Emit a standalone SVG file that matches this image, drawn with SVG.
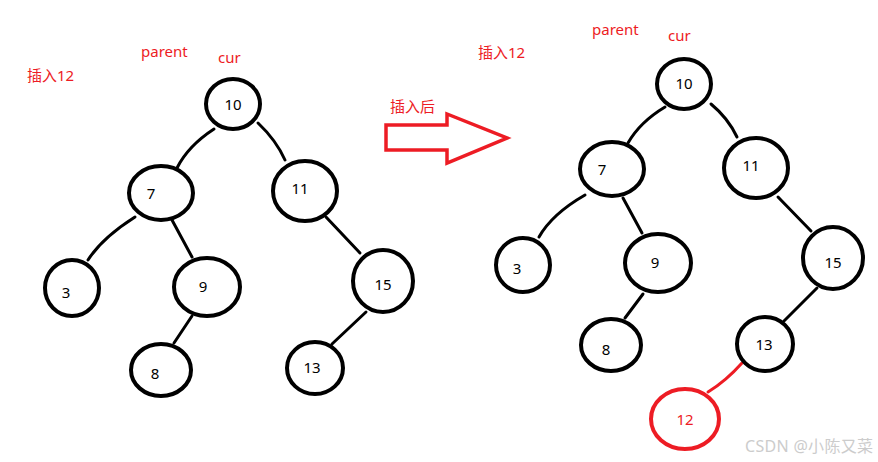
<svg xmlns="http://www.w3.org/2000/svg" width="878" height="462" viewBox="0 0 878 462">
<style>
.n{fill:none;stroke:#000;stroke-width:4}
.nr{fill:none;stroke:#ed1c24;stroke-width:4}
.e{fill:none;stroke:#000;stroke-width:3;stroke-linecap:round}
.er{fill:none;stroke:#ed1c24;stroke-width:3;stroke-linecap:round}
.t{font-family:"Noto Sans","Noto Sans CJK SC",sans-serif;font-size:15px;fill:#000;text-anchor:middle}
.r{font-family:"Noto Sans","Noto Sans CJK SC",sans-serif;font-size:15px;fill:#ed1c24}
.w{font-family:"Noto Sans","Noto Sans CJK SC",sans-serif;font-size:16px;fill:#cccccc}
</style>
<rect width="878" height="462" fill="#fff"/>
<g id="labels">
<text class="r" x="27" y="81">插入12</text>
<text class="r" x="141" y="57">parent</text>
<text class="r" x="218" y="63">cur</text>
<text class="r" x="390" y="112">插入后</text>
<text class="r" x="478" y="58">插入12</text>
<text class="r" x="592" y="35">parent</text>
<text class="r" x="668" y="41">cur</text>
<text class="w" x="745" y="452" textLength="128">CSDN @小陈又菜</text>
</g>
<g id="arrow">
<polygon points="386,125 447,125 447,114 507,138 447,163 447,150 386,150" fill="none" stroke="#ed1c24" stroke-width="3.5" stroke-linejoin="miter"/>
</g>
<g id="connectors">
<path class="e" d="M214,129 Q188,146 177,168"/>
<path class="e" d="M258,123 Q276,140 285,160"/>
<path class="e" d="M135,217 Q102,238 88,260"/>
<path class="e" d="M172,220 L192,257"/>
<path class="e" d="M326,217 L360,253"/>
<path class="e" d="M192,316 L174,343"/>
<path class="e" d="M366,312 L332,344"/>
<path class="e" d="M665,107 Q640,122 628,143"/>
<path class="e" d="M711,104 Q728,118 737,137"/>
<path class="e" d="M585,195 Q552,214 539,237"/>
<path class="e" d="M623,198 L642,233"/>
<path class="e" d="M778,197 L811,231"/>
<path class="e" d="M643,294 L625,318"/>
<path class="e" d="M817,288 L784,321"/>
<path class="er" d="M742,363 Q726,381 708,392"/>
</g>
<g id="L10"><ellipse class="n" cx="233" cy="104" rx="27" ry="25"/><text class="t" x="233" y="110">10</text></g>
<g id="L7"><ellipse class="n" cx="161" cy="193" rx="32" ry="27"/><text class="t" x="151" y="199">7</text></g>
<g id="L11"><ellipse class="n" cx="305" cy="191" rx="32" ry="30"/><text class="t" x="300" y="194">11</text></g>
<g id="L3"><ellipse class="n" cx="72" cy="288" rx="27" ry="28"/><text class="t" x="66" y="298">3</text></g>
<g id="L9"><ellipse class="n" cx="207" cy="287" rx="33" ry="29"/><text class="t" x="203" y="292">9</text></g>
<g id="L15"><ellipse class="n" cx="383" cy="281" rx="30" ry="31"/><text class="t" x="383" y="290">15</text></g>
<g id="L8"><ellipse class="n" cx="161" cy="370" rx="30" ry="26"/><text class="t" x="155" y="379">8</text></g>
<g id="L13"><ellipse class="n" cx="315" cy="368" rx="28" ry="26"/><text class="t" x="312" y="373">13</text></g>
<g id="R10"><ellipse class="n" cx="684" cy="84" rx="27" ry="25"/><text class="t" x="684" y="89">10</text></g>
<g id="R7"><ellipse class="n" cx="612" cy="169" rx="32" ry="27"/><text class="t" x="602" y="175">7</text></g>
<g id="R11"><ellipse class="n" cx="756" cy="168" rx="32" ry="30"/><text class="t" x="751" y="171">11</text></g>
<g id="R3"><ellipse class="n" cx="523" cy="265" rx="27" ry="27"/><text class="t" x="517" y="274">3</text></g>
<g id="R9"><ellipse class="n" cx="658" cy="263" rx="33" ry="29"/><text class="t" x="655" y="268">9</text></g>
<g id="R15"><ellipse class="n" cx="833" cy="258" rx="30" ry="31"/><text class="t" x="833" y="268">15</text></g>
<g id="R8"><ellipse class="n" cx="611" cy="345" rx="30" ry="26"/><text class="t" x="606" y="355">8</text></g>
<g id="R13"><ellipse class="n" cx="765" cy="344" rx="28" ry="27"/><text class="t" x="764" y="350">13</text></g>
<g id="R12"><ellipse class="nr" cx="685" cy="419" rx="34" ry="30"/><text class="t" x="685" y="425" style="fill:#ed1c24">12</text></g>
</svg>
